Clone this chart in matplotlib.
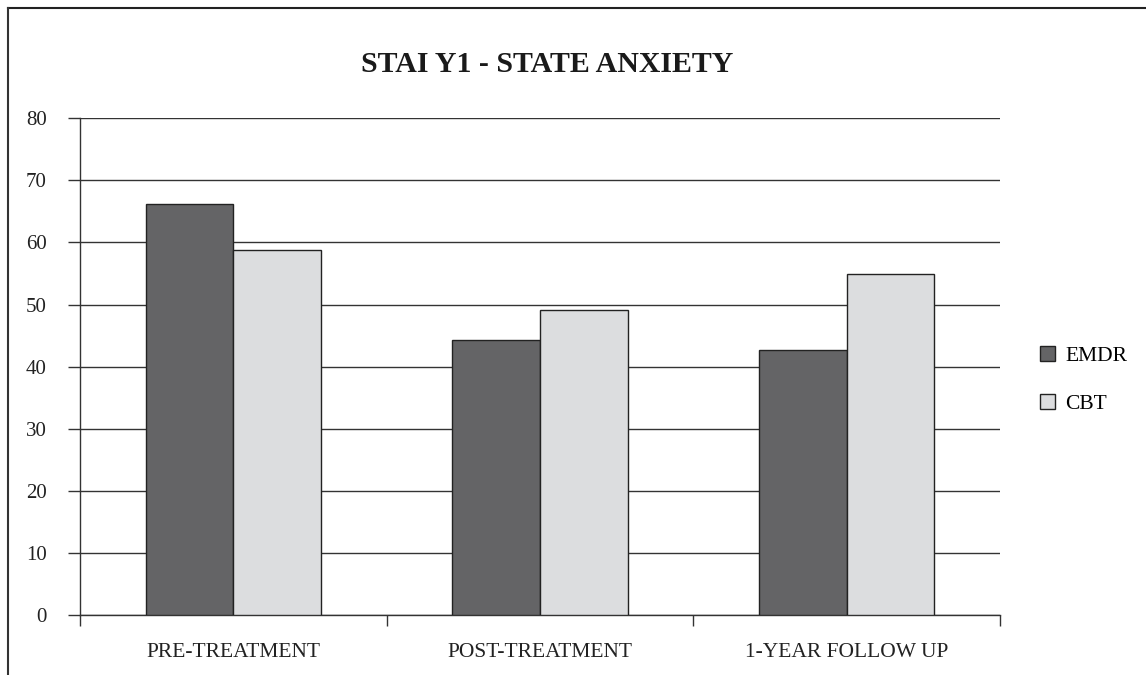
import matplotlib.pyplot as plt
import numpy as np
from matplotlib.lines import Line2D
from matplotlib.patches import Patch

# dane
categories = ['PRE-TREATMENT', 'POST-TREATMENT', '1-YEAR FOLLOW UP']
emdr = [66.2, 44.3, 42.7]
cbt = [58.8, 49.2, 54.9]
series_names = ['EMDR', 'CBT']
yticks = [0, 10, 20, 30, 40, 50, 60, 70, 80]

plt.rcParams['font.family'] = ['Liberation Serif', 'DejaVu Serif']

W, H = 1146, 675
fig = plt.figure(figsize=(W / 100, H / 100), dpi=100)
ax = fig.add_axes([80 / W, 1 - 615 / H, 920 / W, (615 - 118.3) / H])

x = np.arange(len(categories))
bw = 0.286
ax.bar(x - bw / 2, emdr, bw, color='#646466', edgecolor='#222222', linewidth=1.0, zorder=3)
ax.bar(x + bw / 2, cbt, bw, color='#dcdddf', edgecolor='#222222', linewidth=1.0, zorder=3)

ax.set_xlim(-0.5, 2.5)
ax.set_ylim(0, 80)
ax.set_yticks(yticks)
ax.set_yticklabels([str(v) for v in yticks], fontsize=15, color='#222222')
ax.yaxis.grid(True, color='#333333', linewidth=1.0, zorder=0)
ax.tick_params(axis='y', length=9, width=1.0, color='#333333', pad=15)

# podpisy kategorii pod osią, kreski na granicach kategorii
ax.set_xticks([-0.5, 0.5, 1.5, 2.5])
ax.set_xticklabels([])
ax.set_xticks(x, minor=True)
ax.set_xticklabels(categories, minor=True, fontsize=15.5, color='#222222')
ax.tick_params(axis='x', which='major', length=8, width=1.0, color='#333333', direction='out')
ax.tick_params(axis='x', which='minor', length=0, pad=20.5)

for s in ['top', 'right']:
    ax.spines[s].set_visible(False)
for s in ['left', 'bottom']:
    ax.spines[s].set_color('#333333')
    ax.spines[s].set_linewidth(1.0)

fig.text(547 / W, 1 - 64 / H, 'STAI Y1 - STATE ANXIETY', ha='center', va='center',
         fontsize=21.5, fontweight='bold', color='#1a1a1a')

handles = [Patch(facecolor='#646466', edgecolor='#222222', linewidth=1.0),
           Patch(facecolor='#dcdddf', edgecolor='#222222', linewidth=1.0)]
fig.legend(handles, series_names, loc='center left', bbox_to_anchor=(1021 / W, 1 - 380 / H),
           frameon=False, fontsize=15.5, handlelength=0.7, handleheight=0.7,
           handletextpad=0.45, labelspacing=1.3)

# ramka wokół rysunku (górna i lewa krawędź)
fig.add_artist(Line2D([8 / W, 1], [1 - 8 / H, 1 - 8 / H], color='#222222', linewidth=1.5))
fig.add_artist(Line2D([8 / W, 8 / W], [0, 1 - 8 / H], color='#333333', linewidth=1.5))

fig.savefig('out.png', dpi=100)
